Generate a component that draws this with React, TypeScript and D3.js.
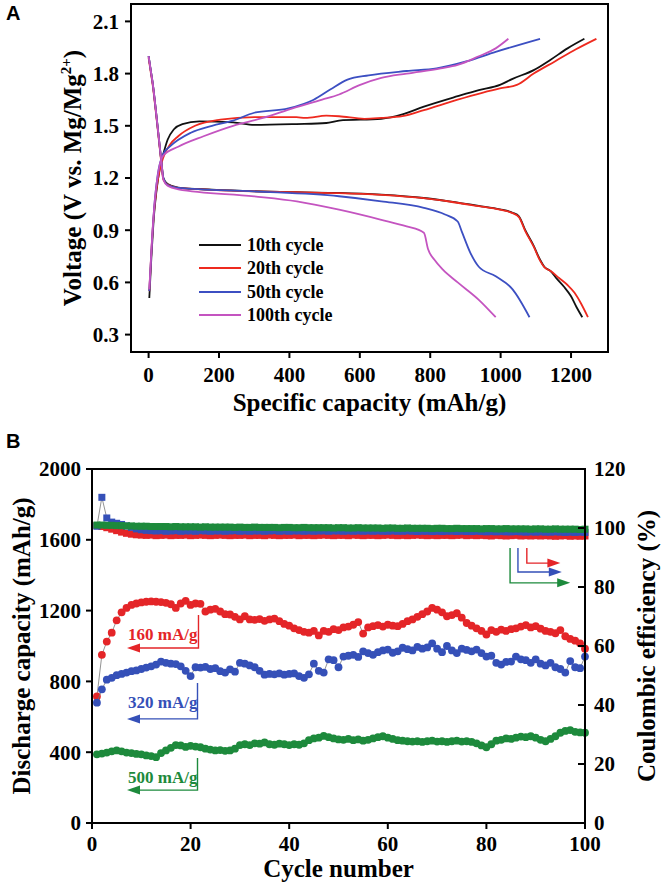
import React from 'react';
import * as d3 from 'd3';

// ---- Panel A: voltage profiles (capacity mAh/g, voltage V) ----
const cycleNames = ['10th cycle', '20th cycle', '50th cycle', '100th cycle'];
const cycleColors = ['#111111', '#ee2a1f', '#3c4fc2', '#c454c0'];

const charge10: [number, number][] = [[2,0.51],[8,0.75],[14,0.95],[22,1.12],[32,1.26],[42,1.34],[54,1.42],[72,1.48],[96,1.51],[144,1.525],[240,1.52],[300,1.505],[420,1.51],[505,1.516],[541,1.53],[661,1.54],[721,1.565],[782,1.61],[878,1.67],[938,1.705],[998,1.735],[1034,1.77],[1094,1.82],[1142,1.88],[1190,1.945],[1238,2.0]];
const charge20: [number, number][] = [[2,0.55],[8,0.78],[14,0.97],[22,1.13],[32,1.25],[42,1.32],[60,1.39],[84,1.44],[132,1.5],[204,1.535],[300,1.55],[420,1.55],[445,1.545],[505,1.558],[541,1.555],[613,1.54],[661,1.545],[721,1.555],[782,1.59],[878,1.65],[998,1.715],[1046,1.735],[1094,1.8],[1154,1.87],[1214,1.94],[1272,2.0]];
const charge50: [number, number][] = [[2,0.55],[10,0.85],[18,1.08],[26,1.22],[42,1.34],[60,1.38],[120,1.46],[180,1.5],[240,1.53],[300,1.575],[397,1.6],[469,1.65],[517,1.71],[565,1.765],[625,1.79],[733,1.815],[818,1.83],[902,1.87],[986,1.925],[1112,2.0]];
const charge100: [number, number][] = [[2,0.56],[10,0.86],[18,1.08],[28,1.24],[42,1.33],[84,1.38],[156,1.44],[240,1.5],[325,1.545],[409,1.6],[493,1.65],[541,1.68],[601,1.735],[661,1.775],[733,1.8],[830,1.83],[878,1.85],[938,1.9],[986,1.945],[1022,2.0]];

const discharge10: [number, number][] = [[0,1.9],[6,1.82],[12,1.74],[20,1.6],[28,1.45],[36,1.3],[42,1.2],[54,1.165],[84,1.145],[180,1.133],[420,1.118],[541,1.114],[661,1.104],[782,1.085],[854,1.066],[938,1.04],[998,1.02],[1034,1.0],[1052,0.98],[1070,0.9],[1094,0.81],[1112,0.73],[1124,0.69],[1142,0.665],[1160,0.62],[1180,0.575],[1200,0.52],[1215,0.46],[1232,0.4]];
const discharge20: [number, number][] = [[0,1.89],[6,1.81],[12,1.73],[20,1.59],[28,1.44],[36,1.29],[42,1.19],[54,1.162],[84,1.143],[180,1.132],[420,1.118],[541,1.113],[661,1.103],[782,1.084],[854,1.065],[938,1.038],[998,1.018],[1034,0.998],[1052,0.975],[1070,0.895],[1094,0.805],[1112,0.725],[1124,0.688],[1142,0.665],[1166,0.625],[1190,0.585],[1210,0.54],[1228,0.48],[1248,0.4]];
const discharge50: [number, number][] = [[0,1.9],[6,1.82],[12,1.74],[20,1.6],[28,1.45],[36,1.3],[42,1.2],[54,1.16],[84,1.143],[300,1.123],[541,1.095],[661,1.066],[782,1.028],[842,0.99],[878,0.95],[890,0.89],[914,0.77],[938,0.69],[986,0.635],[1034,0.56],[1082,0.4]];
const discharge100: [number, number][] = [[0,1.9],[6,1.82],[12,1.74],[20,1.6],[28,1.45],[36,1.3],[42,1.19],[54,1.155],[84,1.135],[300,1.095],[421,1.066],[541,1.018],[661,0.96],[733,0.922],[782,0.885],[794,0.79],[812,0.73],[836,0.673],[878,0.6],[938,0.5],[986,0.4]];

const voltTicks = [0.3, 0.6, 0.9, 1.2, 1.5, 1.8, 2.1];
const capTicks = [0, 200, 400, 600, 800, 1000, 1200];

// ---- Panel B: cycling (discharge capacity mAh/g, coulombic efficiency %) ----
const cycleTicks = [0, 20, 40, 60, 80, 100];
const capLeftTicks = [0, 400, 800, 1200, 1600, 2000];
const ceTicks = [0, 20, 40, 60, 80, 100, 120];
const rateNames = ['160 mA/g', '320 mA/g', '500 mA/g'];
const rateColors = ['#e42528', '#3550b8', '#1d8a3c'];

const cap160 = [715,950,1025,1075,1145,1190,1215,1232,1240,1246,1250,1252,1250,1248,1244,1236,1215,1240,1255,1232,1240,1238,1195,1205,1210,1195,1180,1178,1165,1150,1168,1150,1148,1152,1142,1150,1155,1140,1125,1115,1100,1090,1080,1075,1085,1060,1085,1080,1095,1090,1105,1110,1120,1135,1070,1105,1112,1118,1110,1120,1115,1112,1125,1140,1150,1165,1180,1195,1215,1205,1190,1168,1175,1185,1160,1130,1115,1100,1085,1065,1090,1080,1092,1085,1095,1100,1110,1118,1105,1112,1098,1085,1080,1072,1090,1055,1040,1030,1015,985];
const cap320 = [680,755,810,820,835,842,850,858,862,870,878,885,895,912,905,900,898,885,860,830,880,878,882,870,875,858,850,868,855,905,900,890,880,860,838,842,840,845,838,842,845,830,820,840,900,860,850,925,920,880,940,945,950,938,970,960,950,965,975,980,962,970,990,982,975,995,985,992,1015,985,965,1000,975,960,985,978,970,980,960,940,945,905,895,910,912,940,925,920,905,925,900,890,905,880,870,850,915,880,875,940];
const cap500 = [388,392,398,405,410,405,398,395,390,388,382,378,372,395,410,425,440,438,430,436,432,428,420,415,410,412,408,410,420,440,445,440,450,448,455,445,442,448,445,440,445,442,450,468,478,482,492,485,478,472,470,475,468,472,465,470,478,485,490,482,475,468,465,462,460,462,458,462,465,460,462,458,462,465,460,462,458,450,438,428,445,465,470,478,475,482,488,485,490,482,470,462,475,490,510,520,525,515,512,510];

const ce160 = [100.8,100.5,100.1,99.6,99.1,98.6,98.2,97.9,97.7,97.6,97.5,97.6,97.4,97.5,97.6,97.4,97.5,97.5,97.6,97.4,97.5,97.6,97.5,97.4,97.5,97.6,97.5,97.4,97.5,97.5,97.6,97.4,97.5,97.5,97.4,97.6,97.5,97.4,97.5,97.5,97.6,97.4,97.5,97.5,97.4,97.5,97.6,97.5,97.4,97.5,97.5,97.4,97.6,97.5,97.4,97.5,97.5,97.4,97.5,97.6,97.5,97.4,97.5,97.4,97.5,97.6,97.5,97.4,97.5,97.4,97.5,97.5,97.4,97.5,97.6,97.4,97.5,97.4,97.5,97.4,97.3,97.5,97.4,97.3,97.4,97.5,97.3,97.4,97.3,97.4,97.3,97.4,97.3,97.2,97.3,97.4,97.2,97.3,97.2,97.3];
const ce320 = [100.6,110.4,103.4,102.0,101.6,101.2,100.7,100.2,99.7,99.4,99.2,99.1,99.0,99.1,98.9,99.0,99.1,98.9,99.0,99.0,98.9,99.1,99.0,98.9,99.0,99.0,98.9,99.0,99.1,98.9,99.0,98.9,99.0,99.0,98.9,99.0,99.1,98.9,99.0,98.9,99.0,99.0,98.9,99.0,98.9,99.0,99.0,98.9,99.0,99.0,98.9,99.0,98.9,99.0,98.9,99.0,98.9,99.0,98.9,98.9,99.0,98.9,98.9,99.0,98.9,98.8,98.9,98.9,98.8,98.9,98.8,98.9,98.9,98.8,98.9,98.8,98.8,98.9,98.8,98.7,98.8,98.7,98.8,98.7,98.7,98.8,98.7,98.6,98.7,98.6,98.7,98.6,98.6,98.7,98.6,98.5,98.6,98.5,98.6,98.5];
const ce500 = [101.0,101.0,100.9,100.9,100.8,100.8,100.7,100.7,100.6,100.6,100.6,100.5,100.5,100.5,100.5,100.4,100.5,100.4,100.4,100.4,100.4,100.3,100.4,100.3,100.3,100.3,100.3,100.3,100.2,100.3,100.2,100.2,100.3,100.2,100.2,100.2,100.2,100.1,100.2,100.2,100.1,100.1,100.2,100.1,100.1,100.1,100.1,100.1,100.0,100.1,100.1,100.0,100.0,100.1,100.0,100.0,100.0,100.0,99.9,100.0,100.0,99.9,99.9,100.0,99.9,99.9,99.9,99.9,99.8,99.9,99.9,99.8,99.8,99.9,99.8,99.8,99.8,99.8,99.7,99.8,99.8,99.7,99.7,99.8,99.7,99.7,99.7,99.7,99.6,99.7,99.7,99.6,99.6,99.7,99.6,99.6,99.6,99.6,99.5,99.6];

const serif = '"Liberation Serif", "Times New Roman", serif';
const sans = '"Liberation Sans", Arial, sans-serif';

const PanelA = () => {
  const x = d3.scaleLinear().domain([-50, 1305]).range([131, 608]);
  const y = d3.scaleLinear().domain([0.2, 2.2]).range([352, 4]);
  const line = d3.line<[number, number]>()
    .x(d => x(d[0]))
    .y(d => y(d[1]))
    .curve(d3.curveMonotoneX);
  const curves = [
    [charge10, discharge10],
    [charge20, discharge20],
    [charge50, discharge50],
    [charge100, discharge100],
  ];
  const legendY = [245, 268, 292, 315];

  return (
    <g>
      <text x={6} y={20} fontFamily={sans} fontWeight="bold" fontSize={20}>A</text>
      {curves.map((pair, i) => (
        <g key={i} fill="none" stroke={cycleColors[i]} strokeWidth={1.8}>
          {pair.map((c, j) => <path key={j} d={line(c) || ''} />)}
        </g>
      ))}
      <rect x={131} y={4} width={477} height={348} fill="none" stroke="#000" strokeWidth={2} />
      {voltTicks.map(t => (
        <g key={t}>
          <line x1={125} x2={131} y1={y(t)} y2={y(t)} stroke="#000" strokeWidth={2} />
          <text x={119} y={y(t)} dy="0.35em" textAnchor="end" fontFamily={serif} fontWeight="bold" fontSize={21}>
            {d3.format('.1f')(t)}
          </text>
        </g>
      ))}
      {capTicks.map(t => (
        <g key={t}>
          <line x1={x(t)} x2={x(t)} y1={352} y2={358} stroke="#000" strokeWidth={2} />
          <text x={x(t)} y={382} textAnchor="middle" fontFamily={serif} fontWeight="bold" fontSize={21}>{t}</text>
        </g>
      ))}
      <text x={(131 + 608) / 2} y={411} textAnchor="middle" fontFamily={serif} fontWeight="bold" fontSize={25}>
        Specific capacity (mAh/g)
      </text>
      <text transform={`translate(81 ${(4 + 352) / 2}) rotate(-90)`} textAnchor="middle" fontFamily={serif} fontWeight="bold" fontSize={25}>
        Voltage (V vs. Mg/Mg<tspan fontSize={15} dy={-10}>2+</tspan><tspan dy={10}>)</tspan>
      </text>
      {cycleNames.map((n, i) => (
        <g key={n}>
          <line x1={199} x2={241} y1={legendY[i]} y2={legendY[i]} stroke={cycleColors[i]} strokeWidth={2} />
          <text x={247} y={legendY[i]} dy="0.35em" fontFamily={serif} fontWeight="bold" fontSize={18}>{n}</text>
        </g>
      ))}
    </g>
  );
};

const PanelB = () => {
  const left = 92, right = 585, top = 469, bottom = 823;
  const x = d3.scaleLinear().domain([0, 100]).range([left, right]);
  const yL = d3.scaleLinear().domain([0, 2000]).range([bottom, top]);
  const yR = d3.scaleLinear().domain([0, 120]).range([bottom, top]);
  const capSeries = [cap160, cap320, cap500];
  const ceSeries = [ce160, ce320, ce500];
  const lineL = d3.line<number>().x((_, i) => x(i + 1)).y(d => yL(d));
  const lineR = d3.line<number>().x((_, i) => x(i + 1)).y(d => yR(d));

  // annotation anchors in data units: [arrow tip cycle, bracket cycle, bracket top, arrow level, label level]
  const leftNotes = [
    [7.1, 21.6, 1175, 989, 1034],
    [7.1, 21.4, 791, 588, 650],
    [7.1, 21.4, 367, 186, 226],
  ];
  // right-axis arrows: [bracket cycle, arrow level %, tip cycle]
  const rightNotes = [
    [88.2, 88.1, 95.0],
    [86.4, 85.1, 95.3],
    [84.8, 81.4, 97.0],
  ];
  const arrowTop = 93.2;

  return (
    <g>
      <text x={6} y={448} fontFamily={sans} fontWeight="bold" fontSize={20}>B</text>
      {/* coulombic efficiency */}
      {ceSeries.map((s, k) => (
        <g key={'ce' + k}>
          <path d={lineR(s) || ''} fill="none" stroke="#777" strokeWidth={0.8} />
          {s.map((v, i) => (
            <rect key={i} x={x(i + 1) - 3.5} y={yR(v) - 3.5} width={7} height={7} fill={rateColors[k]} />
          ))}
        </g>
      ))}
      {/* discharge capacity */}
      {capSeries.map((s, k) => (
        <g key={'cap' + k}>
          <path d={lineL(s) || ''} fill="none" stroke="#777" strokeWidth={0.8} />
          {s.map((v, i) => (
            <circle key={i} cx={x(i + 1)} cy={yL(v)} r={3.9} fill={rateColors[k]} />
          ))}
        </g>
      ))}
      {leftNotes.map((n, k) => {
        const tip = x(n[0]), bx = x(n[1]), by0 = yL(n[2]), ay = yL(n[3]);
        return (
          <g key={'ln' + k} stroke={rateColors[k]} fill={rateColors[k]}>
            <polyline points={`${bx},${by0} ${bx},${ay} ${tip + 10},${ay}`} fill="none" strokeWidth={1.4} />
            <path d={`M${tip},${ay} L${tip + 13},${ay - 4.5} L${tip + 13},${ay + 4.5} Z`} stroke="none" />
            <text x={tip + 1} y={yL(n[4])} stroke="none" fontFamily={serif} fontWeight="bold" fontSize={17}>{rateNames[k]}</text>
          </g>
        );
      })}
      {rightNotes.map((n, k) => {
        const bx = x(n[0]), ay = yR(n[1]), tip = x(n[2]);
        return (
          <g key={'rn' + k} stroke={rateColors[k]} fill={rateColors[k]}>
            <polyline points={`${bx},${yR(arrowTop)} ${bx},${ay} ${tip - 10},${ay}`} fill="none" strokeWidth={1.4} />
            <path d={`M${tip},${ay} L${tip - 13},${ay - 4.5} L${tip - 13},${ay + 4.5} Z`} stroke="none" />
          </g>
        );
      })}
      <rect x={left} y={top} width={right - left} height={bottom - top} fill="none" stroke="#000" strokeWidth={2} />
      {capLeftTicks.map(t => (
        <g key={t}>
          <line x1={left - 6} x2={left} y1={yL(t)} y2={yL(t)} stroke="#000" strokeWidth={2} />
          <text x={left - 11} y={yL(t)} dy="0.35em" textAnchor="end" fontFamily={serif} fontWeight="bold" fontSize={21}>{t}</text>
        </g>
      ))}
      {ceTicks.map(t => (
        <g key={t}>
          <line x1={right - 7} x2={right} y1={yR(t)} y2={yR(t)} stroke="#000" strokeWidth={2} />
          <text x={right + 9} y={yR(t)} dy="0.35em" fontFamily={serif} fontWeight="bold" fontSize={21}>{t}</text>
        </g>
      ))}
      {cycleTicks.map(t => (
        <g key={t}>
          <line x1={x(t)} x2={x(t)} y1={bottom} y2={bottom + 6} stroke="#000" strokeWidth={2} />
          <text x={x(t)} y={851} textAnchor="middle" fontFamily={serif} fontWeight="bold" fontSize={21}>{t}</text>
        </g>
      ))}
      <text x={(left + right) / 2} y={877} textAnchor="middle" fontFamily={serif} fontWeight="bold" fontSize={25}>Cycle number</text>
      <text transform={`translate(30 ${(top + bottom) / 2}) rotate(-90)`} textAnchor="middle" fontFamily={serif} fontWeight="bold" fontSize={25}>
        Discharge capacity (mAh/g)
      </text>
      <text transform={`translate(655 ${(top + bottom) / 2}) rotate(-90)`} textAnchor="middle" fontFamily={serif} fontWeight="bold" fontSize={25}>
        Coulombic efficiency (%)
      </text>
    </g>
  );
};

const App = () => (
  <svg width={661} height={886} style={{ position: 'absolute', left: 0, top: 0, background: '#fff' }}>
    <PanelA />
    <PanelB />
  </svg>
);

export default App;
